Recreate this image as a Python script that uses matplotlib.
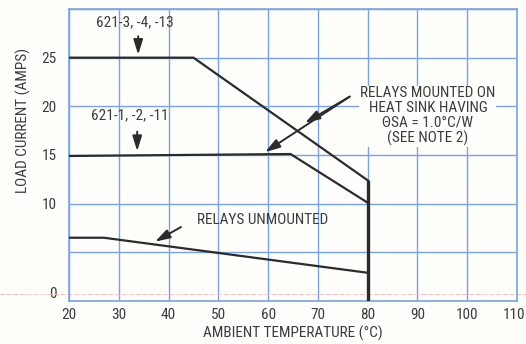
import matplotlib
matplotlib.use("Agg")
import matplotlib.pyplot as plt
import matplotlib.transforms as mtransforms
from matplotlib import font_manager

# Derating curves: ambient temperature (°C) vs. load current (A)
temp_621_3 = [20, 45, 80]
amps_621_3 = [25, 25, 12.4]

temp_621_1 = [20, 64.5, 80]
amps_621_1 = [14.9, 15.1, 10.1]

temp_unmounted = [20, 27, 80]
amps_unmounted = [6.5, 6.5, 2.9]

cutoff_temp = 80
cutoff_amps = [0, 12.4]

x_ticks = [20, 30, 40, 50, 60, 70, 80, 90, 100, 110]
y_ticks = [0, 5, 10, 15, 20, 25, 30]
y_tick_labels = ["0", "", "10", "15", "20", "25", ""]

available = {f.name for f in font_manager.fontManager.ttflist}
family = [f for f in ["Liberation Sans Narrow", "Roboto Condensed", "Liberation Sans"] if f in available]
plt.rcParams["font.family"] = family + ["DejaVu Sans"]

grid_c = "#79a3e6"
ink = "#2b2b2b"
txt = "#3c3c3c"

fig = plt.figure(figsize=(5.26, 3.44), dpi=100, facecolor="#fefefb")
ax = fig.add_axes([69 / 526, 1 - 301 / 344, 448 / 526, 292 / 344])
ax.set_facecolor("#fefefb")
ax.set_xlim(20, 110)
ax.set_ylim(0, 30)

ax.set_xticks(x_ticks)
ax.set_yticks(y_ticks)
ax.set_yticklabels(y_tick_labels)
ax.grid(True, color=grid_c, lw=1.0)
ax.set_axisbelow(True)
ax.tick_params(length=0, labelsize=11, labelcolor=txt)
ax.tick_params(axis="x", pad=5)
ax.tick_params(axis="y", pad=9)
for s in ax.spines.values():
    s.set_color(grid_c)
    s.set_linewidth(1.2)

# lift the zero label slightly above the baseline
lbl0 = ax.get_yticklabels()[0]
lbl0.set_transform(lbl0.get_transform() + mtransforms.ScaledTranslation(0, 0.09, fig.dpi_scale_trans))
# keep the last temperature label inside the figure
lbl_last = ax.get_xticklabels()[-1]
lbl_last.set_transform(lbl_last.get_transform() + mtransforms.ScaledTranslation(-0.03, 0, fig.dpi_scale_trans))

# faint reference rule near the baseline
ax.axhline(0.72, xmin=-0.16, xmax=1.02, clip_on=False, color="#f1c4c4", lw=0.7,
           ls=(0, (5, 2)), zorder=1)

lw = 1.6
ax.plot(temp_621_3, amps_621_3, color=ink, lw=lw, solid_joinstyle="miter", zorder=3)
ax.plot(temp_621_1, amps_621_1, color=ink, lw=lw, solid_joinstyle="miter", zorder=3)
ax.plot(temp_unmounted, amps_unmounted, color=ink, lw=lw, solid_joinstyle="miter", zorder=3)
ax.plot([cutoff_temp, cutoff_temp], cutoff_amps, color=ink, lw=2.4, zorder=3,
        solid_capstyle="butt")

fs = 11
arrow = dict(arrowstyle="-|>,head_length=0.9,head_width=0.28", color=ink, lw=1.4,
             shrinkA=0, shrinkB=0)

ax.text(33.3, 28.6, "621-3, -4, -13", ha="center", va="center", fontsize=fs, color=txt)
ax.annotate("", xy=(33.9, 25.3), xytext=(33.9, 27.2), arrowprops=arrow)

ax.text(32.3, 19.1, "621-1, -2, -11", ha="center", va="center", fontsize=fs, color=txt)
ax.annotate("", xy=(33.7, 15.4), xytext=(33.7, 17.4), arrowprops=arrow)

ax.text(92.1, 19.0, "RELAYS MOUNTED ON\nHEAT SINK HAVING\nΘSA = 1.0°C/W\n(SEE NOTE 2)",
        ha="center", va="center", fontsize=fs, color=txt, linespacing=1.08,
        bbox=dict(boxstyle="square,pad=0.05", fc="#fefefb", ec="none"))
ax.annotate("", xy=(59.4, 15.3), xytext=(76.4, 21.0), arrowprops=arrow)
ax.annotate("", xy=(67.4, 18.3), xytext=(76.4, 21.0), arrowprops=arrow)

ax.text(58.8, 8.3, "RELAYS UNMOUNTED", ha="center", va="center", fontsize=fs, color=txt)
ax.annotate("", xy=(37.3, 6.1), xytext=(42.5, 7.6), arrowprops=arrow)

ax.set_xlabel("AMBIENT TEMPERATURE (°C)", fontsize=fs, color=txt, labelpad=3)
ax.set_ylabel("LOAD CURRENT (AMPS)", fontsize=fs, color=txt)
ax.yaxis.set_label_coords(-0.085, 0.62)

fig.savefig("out.png", dpi=100, facecolor=fig.get_facecolor())
